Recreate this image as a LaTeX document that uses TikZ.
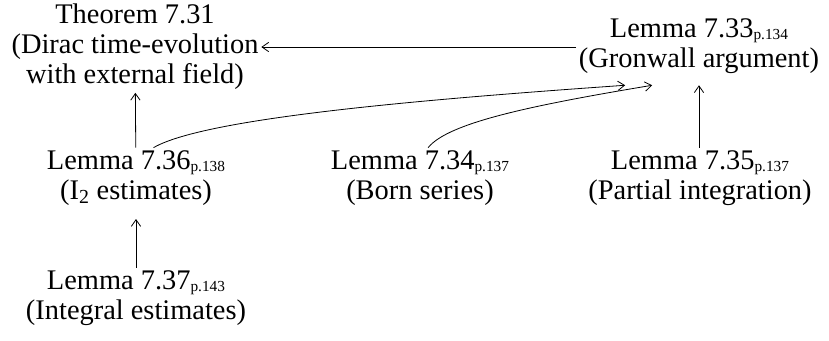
\documentclass[tikz,border=0pt]{standalone}
\usepackage{fontspec}
\setmainfont{Liberation Serif}
\usetikzlibrary{arrows.meta}
\newcommand\pgref[1]{\raisebox{-1.5pt}{\fontsize{11.5}{12}\selectfont p.#1}}
\begin{document}
\begin{tikzpicture}[x=0.75pt,y=-0.75pt,
  box/.style={align=center,inner sep=2pt,font=\fontsize{21.3}{22.5}\selectfont},
  arr/.style={-{Straight Barb[length=5pt,width=7pt]},line width=0.6pt}]
\useasboundingbox (0,0) rectangle (829,340);
\node[box] (thm) at (135,47) {Theorem 7.31\\(Dirac time-evolution\\with external field)};
\node[box,minimum height=58.5pt] (l33) at (699,46) {Lemma 7.33\pgref{134}\\(Gronwall argument)};
\node[box] (l36) at (136,178) {Lemma 7.36\pgref{138}\\(I\textsubscript{2} estimates)};
\node[box] (l34) at (420,178) {Lemma 7.34\pgref{137}\\(Born series)};
\node[box] (l35) at (700,178) {Lemma 7.35\pgref{137}\\(Partial integration)};
\node[box] (l37) at (136,298) {Lemma 7.37\pgref{143}\\(Integral estimates)};
\draw[arr] (l33.west |- thm) -- (thm.east);
\draw[arr] (l36) -- (thm);
\draw[arr,shorten >=8pt] (l37) -- (l36);
\draw[arr] (l35.north -| l33) -- (l33);
\draw[arr] (l36.60) .. controls +(52,-30) and +(-200,14) .. (l33.208);
\draw[arr] (l34.75) .. controls +(20,-25) and +(-120,20) .. (l33.220);
\end{tikzpicture}
\end{document}
